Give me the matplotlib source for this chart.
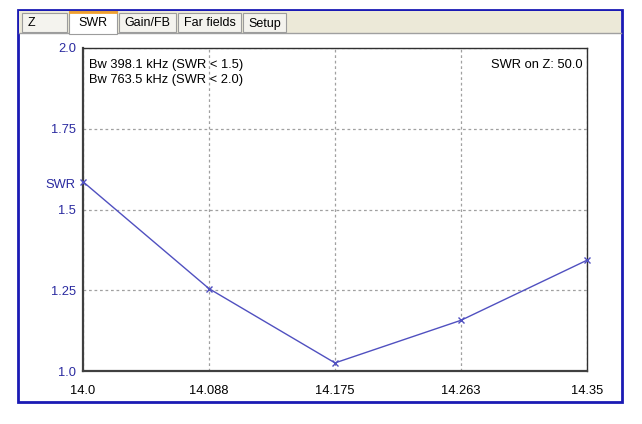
import matplotlib
matplotlib.use("Agg")
import matplotlib.pyplot as plt
from matplotlib.patches import Rectangle

plt.rcParams['font.family'] = ['Liberation Sans', 'DejaVu Sans']

freqs = [14.0, 14.0875, 14.175, 14.2625, 14.35]
swr = [1.586, 1.255, 1.025, 1.157, 1.343]
xtick_vals = [14.0, 14.0875, 14.175, 14.2625, 14.35]
xtick_labels = ["14.0", "14.088", "14.175", "14.263", "14.35"]
ytick_vals = [1.0, 1.25, 1.5, 1.75, 2.0]
ytick_labels = ["1.0", "1.25", "1.5", "1.75", "2.0"]
tabs = ["Z", "SWR", "Gain/FB", "Far fields", "Setup"]
tab_edges = [21, 68, 118, 177, 242, 287]

W, H = 642, 424
fig = plt.figure(figsize=(W / 100, H / 100), dpi=100)
fig.patch.set_facecolor("white")

def fx(x): return x / W
def fy(y): return 1 - y / H

FS = 9.3

# outer blue frame
fig.add_artist(Rectangle((fx(18), fy(402)), fx(622) - fx(18), fy(10) - fy(402),
                         transform=fig.transFigure, facecolor="white",
                         edgecolor="#1a1ab4", linewidth=2.0, zorder=0))
# tab strip background
fig.add_artist(Rectangle((fx(19), fy(33)), fx(621) - fx(19), fy(11) - fy(33),
                         transform=fig.transFigure, facecolor="#ece9d8",
                         edgecolor="none", zorder=1))
fig.add_artist(plt.Line2D([fx(19), fx(621)], [fy(33), fy(33)], transform=fig.transFigure,
                          color="#a0a0a0", linewidth=1.0, zorder=2))
for i, name in enumerate(tabs):
    x0, x1 = tab_edges[i], tab_edges[i + 1]
    sel = (name == "SWR")
    top = 11 if sel else 13
    fc = "white" if sel else "#f4f3ee"
    fig.add_artist(Rectangle((fx(x0 + 1), fy(34 if sel else 32)), fx(x1 - 1) - fx(x0 + 1),
                             fy(top) - fy(34 if sel else 32),
                             transform=fig.transFigure, facecolor=fc,
                             edgecolor="#9c9c9c", linewidth=0.8, zorder=3))
    if sel:
        fig.add_artist(plt.Line2D([fx(x0 + 2), fx(x1 - 2)], [fy(12), fy(12)],
                                  transform=fig.transFigure, color="#f0a030",
                                  linewidth=2.0, zorder=4))
    tx = (x0 + 7) if name == "Z" else (x0 + x1) / 2
    ha = "left" if name == "Z" else "center"
    fig.text(fx(tx), fy(22.5 if sel else 23.5), name, ha=ha, va="center", fontsize=9,
             color="black", zorder=5)

ax = fig.add_axes([fx(83), fy(371), fx(587) - fx(83), fy(48) - fy(371)])
ax.set_facecolor("white")
ax.plot(freqs, swr, color="#5050c0", linewidth=1.0, marker="x", markersize=4,
        markeredgewidth=1.0, clip_on=False, zorder=3)
ax.set_xlim(14.0, 14.35)
ax.set_ylim(1.0, 2.0)
ax.set_xticks(xtick_vals)
ax.set_xticklabels(xtick_labels)
ax.set_yticks(ytick_vals)
ax.set_yticklabels(ytick_labels)
ax.tick_params(axis="both", length=0, labelsize=FS)
ax.tick_params(axis="y", colors="#2a2aa0", pad=5)
ax.tick_params(axis="x", colors="black", pad=10)
ax.grid(True, color="#a0a0a0", linestyle=(0, (2.2, 2.2)), linewidth=0.9)
for s in ["top", "right"]:
    ax.spines[s].set_color("#303030")
    ax.spines[s].set_linewidth(1.0)
for s in ["left", "bottom"]:
    ax.spines[s].set_color("#404040")
    ax.spines[s].set_linewidth(1.6)

ax.text(0.011, 0.966, "Bw 398.1 kHz (SWR < 1.5)\nBw 763.5 kHz (SWR < 2.0)",
        transform=ax.transAxes, ha="left", va="top", fontsize=FS, linespacing=1.35)
ax.text(0.992, 0.966, "SWR on Z: 50.0", transform=ax.transAxes, ha="right", va="top",
        fontsize=FS)
ax.text(-0.015, 1.575, "SWR", transform=ax.get_yaxis_transform(), ha="right",
        va="center", fontsize=FS, color="#2a2aa0")

fig.savefig("out.png", dpi=100, facecolor="white")
